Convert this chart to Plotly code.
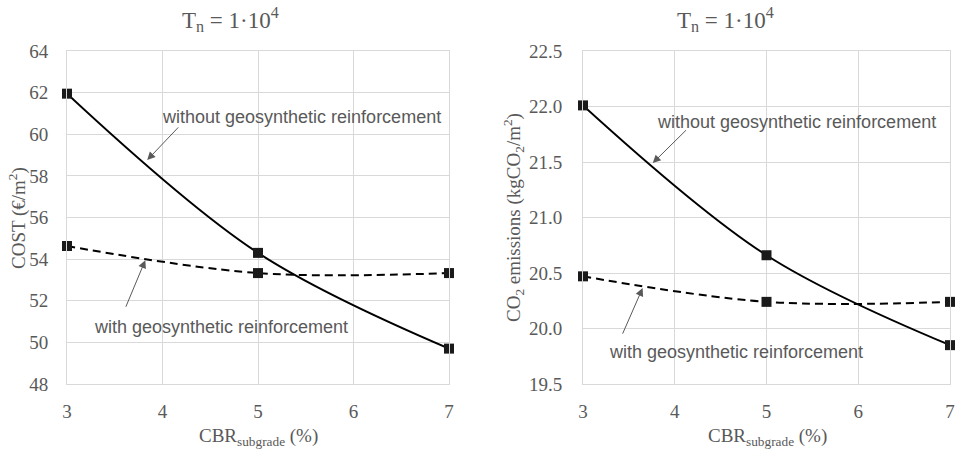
import plotly.graph_objects as go

# ---- data ----
cbr = [3, 5, 7]
cost_without = [61.95, 54.3, 49.7]
cost_with = [54.63, 53.33, 53.33]
co2_without = [22.01, 20.66, 19.85]
co2_with = [20.47, 20.24, 20.24]

x_ticks = [3, 4, 5, 6, 7]
cost_ticks = [48, 50, 52, 54, 56, 58, 60, 62, 64]
co2_ticks = [19.5, 20.0, 20.5, 21.0, 21.5, 22.0, 22.5]

title_text = "T<sub>n</sub> = 1·10<sup>4</sup>"
x_title = "CBR<sub>subgrade</sub> (%)"
cost_title = "COST (€/m<sup>2</sup>)"
co2_title = "CO<sub>2</sub> emissions (kgCO<sub>2</sub>/m<sup>2</sup>)"
lbl_without = "without geosynthetic reinforcement"
lbl_with = "with geosynthetic reinforcement"

W, H = 959, 450
SERIF = "Liberation Serif, Times New Roman, serif"
SANS = "Liberation Sans, Arial, sans-serif"
GRAY = "#595959"
GRID = "#d9d9d9"

fig = go.Figure()

def add_series(x, y, xa, ya, dash):
    fig.add_trace(go.Scatter(
        x=x, y=y, xaxis=xa, yaxis=ya, mode="lines+markers",
        line=dict(color="#000000", width=2, shape="spline", smoothing=1, dash=dash),
        marker=dict(symbol="square", size=10, color="#1a1a1a"),
        showlegend=False, hoverinfo="skip", cliponaxis=False))

add_series(cbr, cost_without, "x", "y", "solid")
add_series(cbr, cost_with, "x", "y", "8px,5px")
add_series(cbr, co2_without, "x2", "y2", "solid")
add_series(cbr, co2_with, "x2", "y2", "8px,5px")

def px_x(p):
    return p / W

def px_y(p):
    return 1 - p / H

ydom = [px_y(384), px_y(51)]
common_x = dict(range=[3, 7], tickvals=x_ticks, showgrid=True, gridcolor=GRID, gridwidth=1,
                showline=True, linecolor=GRID, linewidth=1, mirror=True, zeroline=False,
                ticks="", ticklabelstandoff=10, automargin=False,
                tickfont=dict(family=SERIF, size=19, color=GRAY))
common_y = dict(showgrid=True, gridcolor=GRID, gridwidth=1, showline=True, linecolor=GRID,
                linewidth=1, mirror=True, zeroline=False, ticks="", automargin=False,
                tickfont=dict(family=SERIF, size=19, color=GRAY))

fig.update_layout(
    width=W, height=H, margin=dict(l=0, r=0, t=0, b=0, autoexpand=False),
    paper_bgcolor="white", plot_bgcolor="white",
    xaxis=dict(domain=[px_x(67), px_x(449)], anchor="y", **common_x),
    yaxis=dict(domain=ydom, anchor="x", range=[48, 64], tickvals=cost_ticks,
               ticklabelstandoff=14, **common_y),
    xaxis2=dict(domain=[px_x(583), px_x(950)], anchor="y2", **common_x),
    yaxis2=dict(domain=ydom, anchor="x2", range=[19.5, 22.5], tickvals=co2_ticks,
                tickformat=".1f", ticklabelstandoff=16, **common_y),
)

ann = []
C = dict(xanchor="center", yanchor="middle", showarrow=False)
# titles
for cx in (230, 725):
    ann.append(dict(text=title_text, x=px_x(cx), y=px_y(19), xref="paper", yref="paper",
                    font=dict(family=SERIF, size=23, color=GRAY), **C))
# x-axis titles
for cx in (258, 767):
    ann.append(dict(text=x_title, x=px_x(cx), y=px_y(437), xref="paper", yref="paper",
                    font=dict(family=SERIF, size=19, color=GRAY), **C))
# y-axis titles
ann.append(dict(text=cost_title, x=px_x(17), y=px_y(218), xref="paper", yref="paper",
                textangle=-90, font=dict(family=SERIF, size=19, color=GRAY), **C))
ann.append(dict(text=co2_title, x=px_x(513), y=px_y(218), xref="paper", yref="paper",
                textangle=-90, font=dict(family=SERIF, size=19, color=GRAY), **C))

# series labels
labels = [
    (lbl_without, "x", "y", 5.46, 60.83),
    (lbl_with, "x", "y", 4.61, 50.73),
    (lbl_without, "x2", "y2", 5.33, 21.86),
    (lbl_with, "x2", "y2", 4.67, 19.79),
]
for t, xr, yr, xv, yv in labels:
    ann.append(dict(text=t, x=xv, y=yv, xref=xr, yref=yr,
                    font=dict(family=SANS, size=18, color=GRAY), **C))

# arrows (tip, tail) in data coords
arrows = [
    ("x", "y", 3.84, 58.76, 4.18, 60.4),
    ("x", "y", 3.82, 53.95, 3.61, 51.64),
    ("x2", "y2", 3.76, 21.49, 4.14, 21.80),
    ("x2", "y2", 3.65, 20.365, 3.425, 19.94),
]
for xr, yr, tx, ty, sx, sy in arrows:
    ann.append(dict(text="", x=tx, y=ty, xref=xr, yref=yr, ax=sx, ay=sy,
                    axref=xr, ayref=yr, showarrow=True, arrowhead=2, arrowsize=1.6,
                    arrowwidth=1, arrowcolor=GRAY))

fig.update_layout(annotations=ann)
fig.write_html("out.html", config={"displayModeBar": False},
               post_script="document.body.style.margin='0';document.body.style.overflow='hidden';")
